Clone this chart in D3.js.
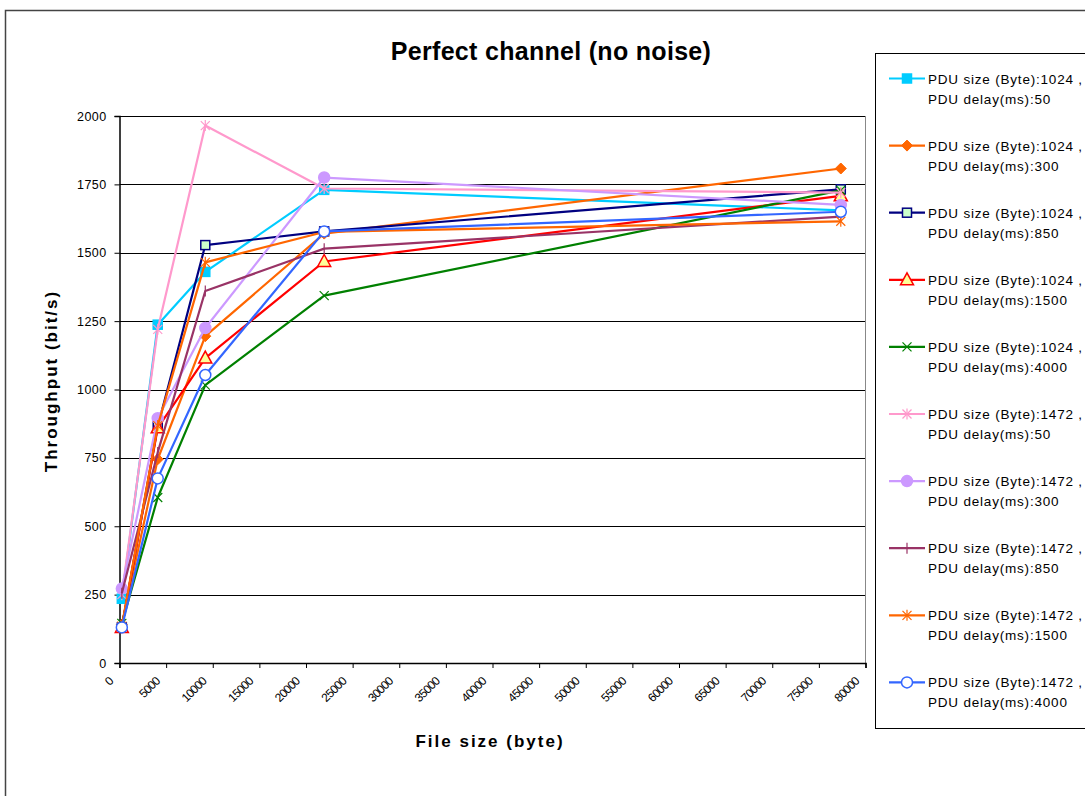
<!DOCTYPE html>
<html>
<head>
<meta charset="utf-8">
<script src="https://cdn.jsdelivr.net/npm/d3@7"></script>
<style>
  html, body { margin: 0; padding: 0; background: #fff; }
  svg { display: block; font-family: "Liberation Sans", Arial, sans-serif; }
</style>
</head>
<body>
<svg id="chart" width="1085" height="796"></svg>
<script>
// File sizes (byte) at which throughput was measured
const fileSizes = [250, 4100, 9200, 21950, 77350];

// Series labels
const pduSizes = [1024, 1024, 1024, 1024, 1024, 1472, 1472, 1472, 1472, 1472];
const pduDelays = [50, 300, 850, 1500, 4000, 50, 300, 850, 1500, 4000];

// Throughput (bit/s) per series
const s1024_50   = [235, 1237, 1430, 1730, 1655];
const s1024_300  = [140, 745, 1195, 1570, 1808];
const s1024_850  = [130, 865, 1528, 1578, 1732];
const s1024_1500 = [130, 860, 1115, 1468, 1708];
const s1024_4000 = [145, 605, 1016, 1343, 1728];
const s1472_50   = [250, 1220, 1965, 1735, 1720];
const s1472_300  = [272, 895, 1225, 1775, 1675];
const s1472_850  = [255, 770, 1360, 1515, 1632];
const s1472_1500 = [135, 868, 1465, 1576, 1615];
const s1472_4000 = [130, 675, 1053, 1578, 1650];

const seriesValues = [s1024_50, s1024_300, s1024_850, s1024_1500, s1024_4000,
                      s1472_50, s1472_300, s1472_850, s1472_1500, s1472_4000];

// Axis ticks
const xTicks = d3.range(0, 80001, 5000);
const yTicks = d3.range(0, 2001, 250);

// Line colour and marker style per series
const styles = [
  { color: "#00CCFF", marker: "square",   fill: "#00CCFF" },
  { color: "#FF6600", marker: "diamond",  fill: "#FF6600" },
  { color: "#000080", marker: "square",   fill: "#CCFFCC" },
  { color: "#FF0000", marker: "triangle", fill: "#FFFF99" },
  { color: "#008000", marker: "x",        fill: "none" },
  { color: "#FF99CC", marker: "star",     fill: "none" },
  { color: "#CC99FF", marker: "circle",   fill: "#CC99FF" },
  { color: "#993366", marker: "plus",     fill: "none" },
  { color: "#FF6600", marker: "star",     fill: "none" },
  { color: "#3366FF", marker: "circle",   fill: "#FFFFFF" }
];

const svg = d3.select("#chart");

// Chart frame
svg.append("rect").attr("x", 5.5).attr("y", 10.5).attr("width", 1100).attr("height", 800)
  .attr("fill", "#fff").attr("stroke", "#444").attr("stroke-width", 1.5);

const x = d3.scaleLinear().domain([0, 80000]).range([119.5, 865.5]);
const y = d3.scaleLinear().domain([0, 2000]).range([663, 116]);

// Title
svg.append("text").attr("x", 551).attr("y", 60).attr("text-anchor", "middle")
  .attr("font-size", 25).attr("font-weight", "bold").attr("letter-spacing", 0.3)
  .text("Perfect channel (no noise)");

// Gridlines
svg.append("g").selectAll("line").data(yTicks.filter(d => d > 0)).join("line")
  .attr("x1", x(0)).attr("x2", x(80000))
  .attr("y1", d => Math.round(y(d)) + 0.5).attr("y2", d => Math.round(y(d)) + 0.5)
  .attr("stroke", "#000").attr("stroke-width", 1);

// Plot area right border
svg.append("line").attr("x1", x(80000)).attr("x2", x(80000))
  .attr("y1", y(2000)).attr("y2", y(0)).attr("stroke", "#888").attr("stroke-width", 1);

// Y axis
const yAxis = svg.append("g").attr("transform", `translate(${x(0)},0)`)
  .call(d3.axisLeft(y).tickValues(yTicks).tickSize(5).tickPadding(8).tickFormat(d3.format("d")));
yAxis.select(".domain").attr("stroke", "#000").attr("stroke-width", 1.5);
yAxis.selectAll(".tick line").attr("stroke", "#000");
yAxis.selectAll("text").attr("font-size", 12.5).attr("fill", "#000").attr("letter-spacing", 0.4)
  .attr("font-family", "Liberation Sans, Arial, sans-serif");

// X axis
const xAxis = svg.append("g").attr("transform", `translate(0,${y(0)})`)
  .call(d3.axisBottom(x).tickValues(xTicks).tickSize(5).tickFormat(d3.format("d")));
xAxis.select(".domain").attr("stroke", "#000").attr("stroke-width", 1.5);
xAxis.selectAll(".tick line").attr("stroke", "#000");
xAxis.selectAll("text")
  .attr("font-size", 12).attr("fill", "#000").attr("letter-spacing", -0.8)
  .attr("font-family", "Liberation Sans, Arial, sans-serif")
  .attr("text-anchor", "end").attr("dy", null).attr("y", 0)
  .attr("transform", "translate(-6,19) rotate(-45)");

// Axis titles
svg.append("text").attr("transform", "translate(57,381) rotate(-90)").attr("text-anchor", "middle")
  .attr("font-size", 17).attr("font-weight", "bold").attr("letter-spacing", 2)
  .text("Throughput (bit/s)");
svg.append("text").attr("x", 490).attr("y", 747).attr("text-anchor", "middle")
  .attr("font-size", 17).attr("font-weight", "bold").attr("letter-spacing", 2)
  .text("File size (byte)");

// Marker drawing
function drawMarker(g, type, color, fill, cx, cy) {
  const s = 4.5;
  if (type === "square") {
    g.append("rect").attr("x", cx - s).attr("y", cy - s).attr("width", 2 * s).attr("height", 2 * s)
      .attr("fill", fill).attr("stroke", color).attr("stroke-width", 1.5);
  } else if (type === "diamond") {
    g.append("path").attr("d", `M${cx},${cy - 5.5}L${cx + 5.5},${cy}L${cx},${cy + 5.5}L${cx - 5.5},${cy}Z`)
      .attr("fill", fill).attr("stroke", color);
  } else if (type === "triangle") {
    g.append("path").attr("d", `M${cx},${cy - 7}L${cx + 6.5},${cy + 5}L${cx - 6.5},${cy + 5}Z`)
      .attr("fill", fill).attr("stroke", color).attr("stroke-width", 1.5);
  } else if (type === "circle") {
    g.append("circle").attr("cx", cx).attr("cy", cy).attr("r", 5.5)
      .attr("fill", fill).attr("stroke", color).attr("stroke-width", 1.5);
  } else {
    const lines = [];
    if (type === "x" || type === "star") {
      lines.push([-s, -s, s, s], [-s, s, s, -s]);
    }
    if (type === "star") lines.push([0, -s - 1, 0, s + 1]);
    if (type === "plus") lines.push([0, -s - 1, 0, s + 1]);
    lines.forEach(l => g.append("line")
      .attr("x1", cx + l[0]).attr("y1", cy + l[1]).attr("x2", cx + l[2]).attr("y2", cy + l[3])
      .attr("stroke", color).attr("stroke-width", 1.2));
  }
}

// Series lines and markers
const line = d3.line().x((d, i) => x(fileSizes[i])).y(d => y(d));
seriesValues.forEach((vals, k) => {
  const st = styles[k];
  const g = svg.append("g");
  g.append("path").attr("d", line(vals)).attr("fill", "none")
    .attr("stroke", st.color).attr("stroke-width", 2.2).attr("stroke-linejoin", "round");
  vals.forEach((v, i) => drawMarker(g, st.marker, st.color, st.fill, x(fileSizes[i]), y(v)));
});

// Legend
svg.append("rect").attr("x", 875.5).attr("y", 53.5).attr("width", 240).attr("height", 675)
  .attr("fill", "#fff").attr("stroke", "#000").attr("stroke-width", 1);
seriesValues.forEach((vals, k) => {
  const st = styles[k];
  const cy = 78.5 + 67.1 * k;
  const g = svg.append("g");
  g.append("line").attr("x1", 889).attr("x2", 925).attr("y1", cy).attr("y2", cy)
    .attr("stroke", st.color).attr("stroke-width", 2.2);
  drawMarker(g, st.marker, st.color, st.fill, 907, cy);
  g.append("text").attr("x", 928).attr("y", cy + 5).attr("font-size", 13.5).attr("letter-spacing", 0.8)
    .text(`PDU size (Byte):${pduSizes[k]} ,`);
  g.append("text").attr("x", 928).attr("y", cy + 25).attr("font-size", 13.5).attr("letter-spacing", 0.8)
    .text(`PDU delay(ms):${pduDelays[k]}`);
});
</script>
</body>
</html>
